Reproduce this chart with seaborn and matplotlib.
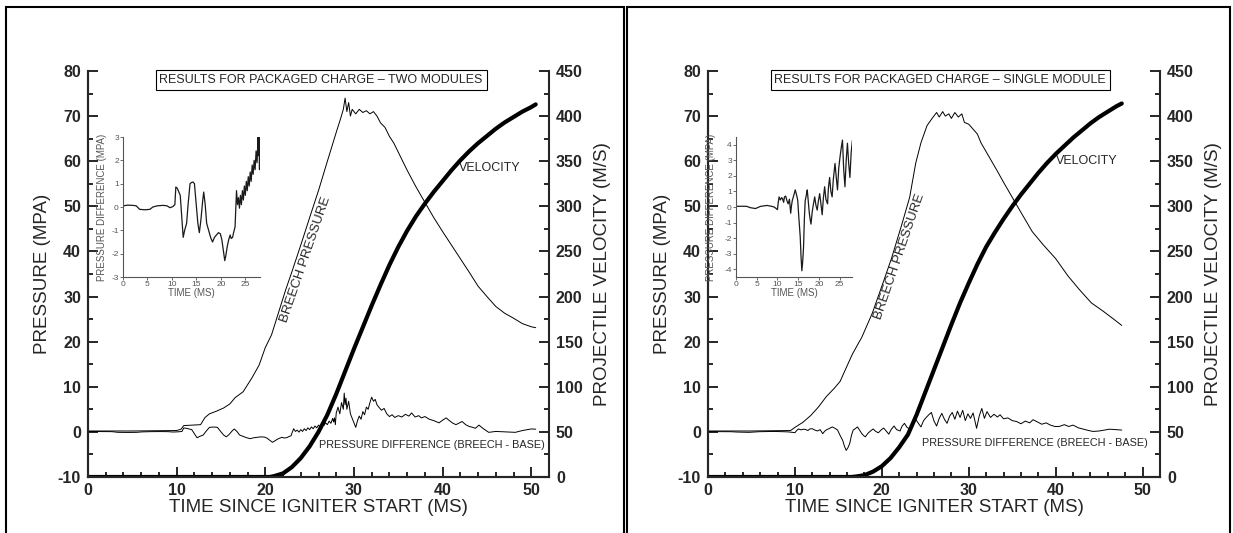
import matplotlib
matplotlib.use("Agg")
import matplotlib.pyplot as plt
from matplotlib.patches import Rectangle
from matplotlib.ticker import MultipleLocator
import seaborn as sns

# ---------------- data ----------------
# panel 1: two modules
two_breech_t = [0, 5, 10, 10.5, 10.8, 12.7, 13.2, 13.7, 14.5, 15.3, 16.0, 16.6, 17.5, 18.5, 19.3,
                20.0, 20.7, 21.5, 22.3, 23.0, 24.0, 25.0, 26.0, 27.0, 28.0, 28.5, 28.8, 29.0, 29.2,
                29.4, 29.6, 29.8, 30.2, 30.6, 31.0, 31.4, 31.8, 32.2, 32.6, 33.0, 33.5, 34.0, 34.5,
                35.0, 36, 37, 38, 39, 40, 41, 42, 43, 44, 45, 46, 47, 48, 49, 50, 50.5]
two_breech_p = [0.2, 0.2, 0.3, 0.6, 1.4, 1.6, 3.2, 4.0, 4.6, 5.3, 6.2, 7.6, 8.9, 12.0, 14.8,
                18.7, 21.5, 26.5, 31.5, 35.5, 41.4, 47.5, 53.5, 60.0, 66.4, 69.5, 71.5, 74.0, 71.0,
                73.0, 70.0, 71.5, 70.5, 71.5, 70.8, 71.2, 70.5, 71.0, 70.0, 68.5, 67.5, 65.5, 64.0,
                62.0, 58.0, 54.3, 50.9, 47.5, 44.4, 41.4, 38.4, 35.4, 32.3, 30.0, 27.8, 26.3, 25.2,
                24.0, 23.3, 23.1]

two_vel_t = [0, 20.5, 21, 22, 23, 24, 25, 26, 27, 28, 29, 30, 31, 32, 33, 34, 35, 36, 37, 38,
             39, 40, 41, 42, 43, 44, 45, 46, 47, 48, 49, 50, 50.5]
two_vel_v = [0, 0, 1, 4, 11, 21, 34, 50, 69, 92, 117, 142, 166, 190, 213, 235, 255, 273, 289, 303,
             316, 328, 340, 351, 361, 370, 378, 386, 393, 399, 405, 410, 413]

two_diff_t = [0.0, 1.0, 2.0, 2.7, 3.4, 4.5, 5.5, 6.1, 7.0, 8.2, 9.0, 9.6, 10.2, 10.6, 10.8, 11.1,
              11.4, 11.7, 12.0, 12.3, 12.6, 13.0, 13.3, 13.7, 14.0, 14.3, 14.6, 15.0, 15.3, 15.6,
              15.9, 16.1, 16.3, 16.5, 16.8, 17.1, 17.5, 17.9, 18.3, 18.7, 19.1, 19.5, 19.9, 20.2,
              20.5, 20.8, 21.0, 21.3, 21.6, 21.9, 22.1, 22.4, 22.6, 22.9, 23.0, 23.2, 23.4, 23.6,
              23.8, 24.0, 24.2, 24.4, 24.6, 24.8, 25.0, 25.2, 25.4, 25.6, 25.8, 26.0, 26.2, 26.4,
              26.6, 26.8, 27.0, 27.2, 27.4, 27.6, 27.7, 27.8, 27.9, 28.0, 28.2, 28.4, 28.6, 28.8,
              28.9, 29.0, 29.1, 29.2, 29.4, 29.6, 29.8, 30.0, 30.2, 30.4, 30.6, 30.8, 31.0, 31.2,
              31.4, 31.6, 31.8, 32.0, 32.2, 32.4, 32.6, 32.8, 33.1, 33.4, 33.7, 34.0, 34.3, 34.6,
              35.0, 35.4, 35.8, 36.2, 36.5, 36.9, 37.3, 37.6, 38.0, 38.5, 39.0, 39.6, 40.0, 40.4,
              40.7, 41.1, 41.5, 41.9, 42.2, 42.6, 43.0, 43.4, 43.7, 44.1, 44.6, 45.2, 46.0, 47.0,
              48.2, 49.0, 50.0, 50.5]
two_diff_p = [0.05, 0.08, 0.07, 0.05, -0.10, -0.12, -0.10, 0.00, 0.05, 0.07, 0.05, -0.03, 0.02,
              0.10, 0.86, 0.80, 0.65, 0.50, -0.40, -1.30, -1.00, -0.70, 0.10, 1.00, 1.05, 1.07,
              1.00, 0.00, -0.70, -1.10, -0.60, -0.15, 0.30, 0.64, 0.10, -0.70, -1.00, -1.30, -1.50,
              -1.30, -1.20, -1.10, -1.15, -1.40, -1.85, -2.30, -2.10, -1.70, -1.40, -1.20, -1.35,
              -1.30, -1.10, -0.86, -0.30, 0.70, 0.10, 0.40, -0.05, 0.50, 0.10, 0.70, 0.30, 0.90,
              0.50, 1.10, 0.70, 1.30, 0.90, 1.50, 1.10, 1.80, 1.40, 2.00, 1.60, 2.40, 1.90, 3.00,
              2.20, 3.10, 1.60, 4.20, 5.50, 4.00, 6.50, 5.00, 8.60, 6.00, 7.50, 5.00, 6.80, 4.00,
              3.00, 2.00, 1.00, 2.50, 3.50, 2.80, 4.50, 3.80, 5.50, 5.00, 6.50, 7.70, 6.80, 7.20,
              6.00, 5.50, 4.80, 5.20, 4.00, 3.40, 3.80, 3.20, 3.60, 3.30, 3.90, 3.50, 4.20, 3.30,
              3.60, 3.10, 3.40, 2.80, 2.50, 2.00, 2.60, 3.10, 2.60, 2.00, 1.60, 2.00, 2.30, 1.60,
              1.20, 1.00, 0.80, 1.50, 0.70, -0.10, 0.10, 0.00, -0.10, 0.30, 0.65, 0.60]

# panel 2: single module
one_breech_t = [0, 5, 9.5, 10.0, 10.9, 11.8, 12.7, 13.6, 14.5, 15.2, 15.9, 16.6, 17.7, 18.9, 20.0,
                21.1, 22.3, 23.2, 23.9, 24.5, 25.2, 25.6, 25.9, 26.3, 26.6, 27.0, 27.3, 27.7, 28.0,
                28.4, 28.8, 29.2, 29.5, 30.0, 30.5, 31.0, 31.4, 32.3, 33.2, 34.1, 35.0, 35.9, 37.3,
                38.6, 40.0, 41.4, 42.7, 44.1, 45.5, 46.8, 47.6]
one_breech_p = [0.2, 0.2, 0.3, 1.0, 2.1, 3.6, 5.5, 7.8, 9.6, 11.2, 14.2, 17.2, 21.0, 26.3, 32.3,
                38.4, 46.0, 52.0, 59.6, 64.1, 67.9, 69.0, 69.8, 70.8, 69.8, 71.0, 70.0, 70.5, 69.5,
                70.8, 69.8, 70.5, 68.6, 68.2, 67.1, 66.0, 64.1, 61.1, 58.1, 55.0, 52.0, 49.0, 44.4,
                41.4, 38.4, 34.6, 31.6, 28.6, 26.7, 24.8, 23.6]

one_vel_t = [0, 16.5, 17, 18, 19, 20, 21, 22, 23, 24, 25, 26, 27, 28, 29, 30, 31, 32, 33, 34, 35,
             36, 37, 38, 39, 40, 41, 42, 43, 44, 45, 46, 47, 47.6]
one_vel_v = [0, 0, 0.5, 2, 6, 12, 21, 33, 47, 69, 94, 119, 144, 169, 193, 215, 236, 255, 271, 286,
             300, 313, 325, 337, 348, 358, 367, 376, 384, 392, 399, 405, 411, 414]

one_diff_t = [0.0, 1.5, 2.6, 3.4, 4.7, 5.9, 7.5, 8.5, 9.2, 9.7, 10.0, 10.2, 10.4, 10.7, 11.0, 11.2,
              11.5, 11.7, 12.0, 12.3, 12.6, 12.9, 13.2, 13.4, 13.6, 13.9, 14.3, 14.6, 14.9, 15.2,
              15.5, 15.7, 15.9, 16.1, 16.3, 16.5, 16.7, 17.0, 17.2, 17.5, 17.7, 17.9, 18.1, 18.4,
              18.7, 19.0, 19.3, 19.6, 19.9, 20.2, 20.5, 20.8, 21.1, 21.4, 21.7, 22.1, 22.3, 22.6,
              22.9, 23.2, 23.5, 23.9, 24.2, 24.5, 24.8, 25.1, 25.4, 25.7, 26.0, 26.3, 26.6, 26.9,
              27.2, 27.5, 27.8, 28.1, 28.4, 28.7, 29.0, 29.3, 29.6, 29.9, 30.2, 30.5, 30.9, 31.2,
              31.5, 31.8, 32.1, 32.5, 32.9, 33.3, 33.6, 34.0, 34.5, 35.0, 35.5, 36.0, 36.5, 37.0,
              37.4, 37.9, 38.4, 38.9, 39.4, 39.9, 40.4, 41.0, 41.5, 42.0, 42.6, 43.2, 43.8, 44.3,
              45.0, 45.6, 46.2, 46.9, 47.6]
one_diff_p = [0.04, 0.05, 0.04, -0.04, -0.10, 0.04, 0.10, 0.05, 0.00, -0.10, -0.17, 0.30, 0.65,
              0.45, 0.60, 0.55, 0.30, 0.65, 0.70, 0.40, 0.20, 0.50, -0.40, 0.10, 0.43, 0.70, 1.10,
              0.80, 0.43, -0.80, -1.90, -3.20, -4.10, -3.50, -2.60, -0.80, 0.40, 0.80, 1.10, 0.20,
              -0.40, -0.80, -1.10, -0.30, 0.20, 0.65, 0.10, -0.20, 0.40, 0.86, 0.20, -0.50, 0.60,
              1.30, 0.50, 0.20, 1.20, 1.90, 1.00, 0.65, 1.80, 2.80, 1.90, 1.10, 2.50, 3.20, 3.80,
              4.30, 2.40, 1.30, 3.00, 4.10, 2.80, 1.90, 3.50, 4.30, 2.80, 4.60, 3.20, 4.80, 2.50,
              4.00, 3.00, 4.20, 0.80, 3.50, 5.20, 3.00, 4.50, 3.20, 3.90, 3.30, 3.80, 2.90, 3.10,
              2.50, 2.30, 1.80, 2.40, 2.00, 2.70, 2.20, 1.70, 2.00, 1.50, 1.20, 1.20, 1.60, 1.20,
              1.50, 0.90, 0.60, 0.30, 0.10, 0.20, 0.40, 0.60, 0.50, 0.40]

pressure_ticks = [-10, 0, 10, 20, 30, 40, 50, 60, 70, 80]
velocity_ticks = [0, 50, 100, 150, 200, 250, 300, 350, 400, 450]
time_ticks = [0, 10, 20, 30, 40, 50]
inset_time_ticks = [0, 5, 10, 15, 20, 25]
two_inset_ticks = [-3, -2, -1, 0, 1, 2, 3]
one_inset_ticks = [-4, -3, -2, -1, 0, 1, 2, 3, 4]

# ---------------- figure ----------------
sns.set_style("ticks")
plt.rcParams["font.family"] = ["Liberation Sans", "DejaVu Sans"]
plt.rcParams["axes.linewidth"] = 1.5
plt.rcParams["axes.unicode_minus"] = False

W, H = 1233, 533
fig = plt.figure(figsize=(W / 100, H / 100), dpi=100)


def px_rect(x0, y0, x1, y1):
    # pixel box (top-left origin) -> figure fraction
    return [x0 / W, 1 - y1 / H, (x1 - x0) / W, (y1 - y0) / H]


def draw_panel(ax_box, inset_box, title, title_x, breech, vel, diff, inset_ylim, inset_ticks,
               inset_gap, vel_xy, breech_xy, diff_xy):
    ax = fig.add_axes(px_rect(*ax_box))
    sns.lineplot(x=breech[0], y=breech[1], ax=ax, color="black", lw=0.7, estimator=None)
    sns.lineplot(x=diff[0], y=diff[1], ax=ax, color="black", lw=0.7, estimator=None)
    ax.set_xlim(0, 52)
    ax.set_ylim(-10, 80)
    ax.set_xticks(time_ticks)
    ax.set_xticklabels([str(t) for t in time_ticks], fontweight="bold")
    ax.set_yticks(pressure_ticks)
    ax.set_yticklabels([str(t) for t in pressure_ticks], fontweight="bold")
    ax.xaxis.set_minor_locator(MultipleLocator(2))
    ax.yaxis.set_minor_locator(MultipleLocator(5))
    ax.tick_params(which="both", direction="in", width=1.4, labelsize=11.5, top=False, right=False)
    ax.tick_params(which="major", length=7.5)
    ax.tick_params(which="minor", length=3.8)
    ax.tick_params(axis="y", pad=5)
    ax.tick_params(axis="x", pad=4)
    ax.spines["top"].set_visible(False)
    ax.spines["right"].set_visible(False)
    ax.set_xlabel("TIME SINCE IGNITER START (MS)", fontsize=13.5, labelpad=1)
    ax.set_ylabel("PRESSURE (MPA)", fontsize=13.5, labelpad=5)

    ax2 = ax.twinx()
    sns.lineplot(x=vel[0], y=vel[1], ax=ax2, color="black", lw=3.0, estimator=None)
    ax2.set_ylim(0, 450)
    ax2.set_yticks(velocity_ticks)
    ax2.set_yticklabels([str(t) for t in velocity_ticks], fontweight="bold")
    ax2.yaxis.set_minor_locator(MultipleLocator(25))
    ax2.tick_params(which="both", direction="in", width=1.4, labelsize=11.5, pad=5)
    ax2.tick_params(which="major", length=7.5)
    ax2.tick_params(which="minor", length=3.8)
    ax2.spines["top"].set_visible(False)
    ax2.set_ylabel("PROJECTILE VELOCITY (M/S)", fontsize=13.5, labelpad=8, rotation=90)

    ax.text(title_x, 78, title, ha="center", va="center", fontsize=9,
            bbox=dict(boxstyle="square,pad=0.3", fc="white", ec="black", lw=0.8))
    ax.text(vel_xy[0], vel_xy[1], "VELOCITY", ha="center", va="center", fontsize=9)
    ax.text(breech_xy[0], breech_xy[1], "BREECH PRESSURE", ha="center", va="center",
            fontsize=9.5, rotation=71)
    ax.text(diff_xy[0], diff_xy[1], "PRESSURE DIFFERENCE (BREECH - BASE)", ha="center",
            va="center", fontsize=7.8)

    ins = fig.add_axes(px_rect(*inset_box))
    sns.lineplot(x=diff[0], y=diff[1], ax=ins, color="#1a1a1a", lw=0.9, estimator=None)
    ins.set_xlim(0, 28)
    ins.set_ylim(*inset_ylim)
    ins.set_xticks(inset_time_ticks)
    ins.set_yticks(inset_ticks)
    ins.tick_params(which="both", direction="out", length=2, width=0.6, labelsize=6,
                    colors="#555555", pad=1)
    for s in ["top", "right"]:
        ins.spines[s].set_visible(False)
    for s in ["left", "bottom"]:
        ins.spines[s].set_linewidth(0.8)
        ins.spines[s].set_color("#555555")
    ins.patch.set_alpha(0)
    ins.set_xlabel("TIME (MS)", fontsize=7, color="#555555", labelpad=0)
    ins.set_ylabel("PRESSURE DIFFERENCE (MPA)", fontsize=7, color="#555555")
    ins.yaxis.set_label_coords(-inset_gap / (inset_box[2] - inset_box[0]), 0.5)


draw_panel((88, 71, 549, 477), (123, 137, 260, 277),
           "RESULTS FOR PACKAGED CHARGE \u2013 TWO MODULES", 26.3,
           (two_breech_t, two_breech_p), (two_vel_t, two_vel_v), (two_diff_t, two_diff_p),
           (-3, 3), two_inset_ticks, 16, (45.3, 58.5), (24.6, 38.1), (38.8, -2.9))

draw_panel((708, 71, 1160, 477), (736, 137, 852, 277),
           "RESULTS FOR PACKAGED CHARGE \u2013 SINGLE MODULE", 26.7,
           (one_breech_t, one_breech_p), (one_vel_t, one_vel_v), (one_diff_t, one_diff_p),
           (-4.5, 4.5), one_inset_ticks, 20, (43.6, 60.0), (22.1, 38.8), (37.6, -2.5))

# panel frames
fig.add_artist(Rectangle((6 / W, -0.1), 618 / W, 1.1 - 7 / H, transform=fig.transFigure,
                         fill=False, ec="black", lw=1.5))
fig.add_artist(Rectangle((627 / W, -0.1), 603 / W, 1.1 - 7 / H, transform=fig.transFigure,
                         fill=False, ec="black", lw=1.5))

fig.savefig("out.png", dpi=100)
